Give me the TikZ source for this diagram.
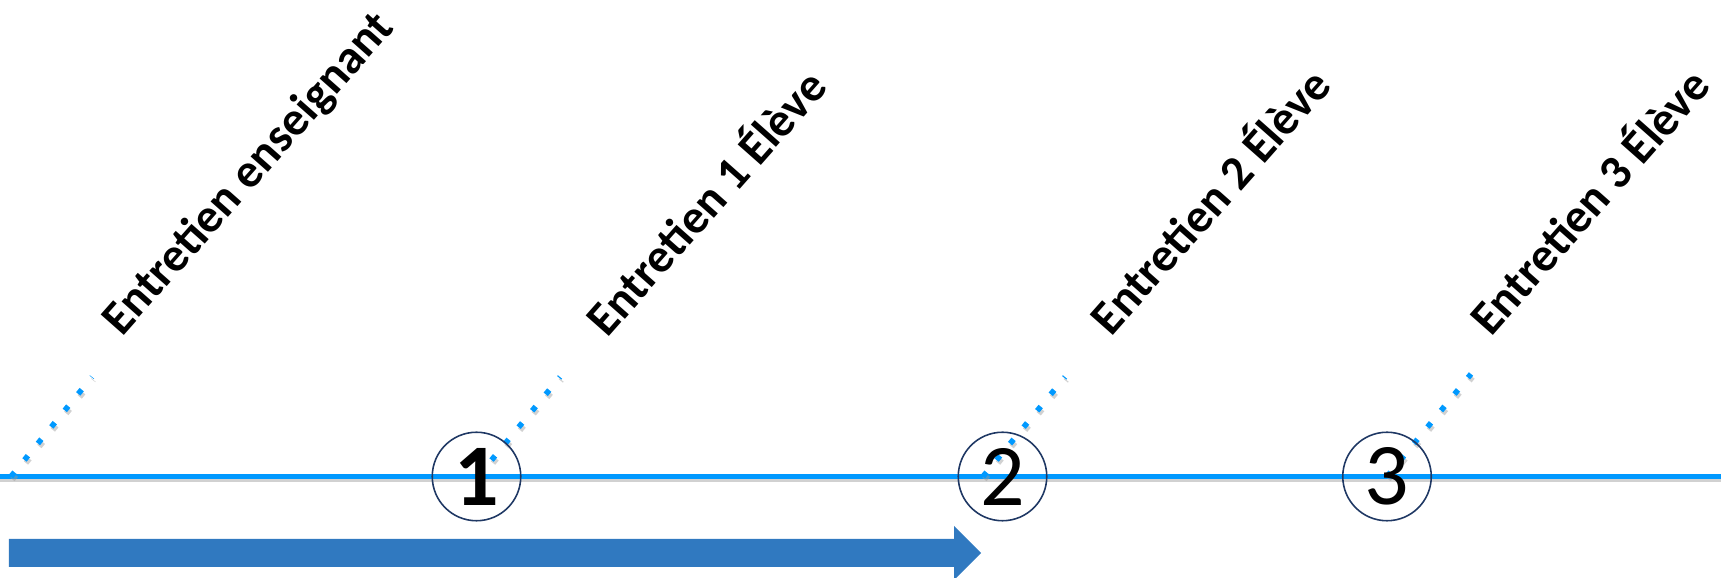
\documentclass[tikz,border=0pt]{standalone}
\usepackage{fontspec}
\setmainfont{Carlito}
\usepackage{tikz}
\usetikzlibrary{positioning}

\definecolor{lineblue}{RGB}{0,153,255}
\definecolor{arrowblue}{RGB}{48,121,192}
\definecolor{circlenavy}{RGB}{31,56,100}

\begin{document}
\begin{tikzpicture}[
    entry/.style={rotate=48.5, inner sep=0pt, font=\fontsize{13.6}{16}\selectfont\bfseries},
    marker/.style={circle, draw=circlenavy, line width=0.45pt, minimum size=0.885cm, inner sep=0pt, font=\fontsize{25}{30}\selectfont},
    dots/.style={lineblue, line width=0.055cm, dash pattern=on 0.055cm off 0.158cm},
    dotshadow/.style={black!40, opacity=0.45, line width=0.055cm, dash pattern=on 0.055cm off 0.158cm,
        transform canvas={shift={(0.015,-0.03)}}},
    timeline/.style={lineblue, line width=0.045cm},
    lineshadow/.style={black!40, opacity=0.45, line width=0.04cm, transform canvas={yshift=-0.035cm}}
]
\useasboundingbox (0,0) rectangle (17.21,5.78);

% Timeline
\coordinate (start) at (0,1.015);
\coordinate (end) at (17.21,1.015);
\draw [lineshadow] (start) -- (end);
\draw [timeline] (start) -- (end);

% Ticks on the timeline and tops of the dotted leaders
\coordinate (tick0) at (0.11,1.015);
\coordinate (top0) at (0.92,2.01);
\coordinate (tick1) at (4.78,1.015);
\coordinate (top1) at (5.60,2.01);
\coordinate (tick2) at (9.83,1.015);
\coordinate (top2) at (10.65,2.01);
\coordinate (tick3) at (13.87,1.015);
\coordinate (top3) at (14.71,2.04);

% Dotted leaders
\foreach \i in {0,...,3} {
    \draw [dotshadow] (tick\i) -- (top\i);
    \draw [dots] (tick\i) -- (top\i);
}

% Interview labels
\node [entry] (teacher) at (2.495,4.035) {Entretien enseignant};
\node [entry] (pupil1) at (7.035,3.775) {Entretien 1 Élève};
\node [entry] (pupil2) at (12.075,3.79) {Entretien 2 Élève};
\node [entry] (pupil3) at (15.87,3.785) {Entretien 3 Élève};

% Numbered markers
\node [marker] (step1) at (4.765,1.015) {\textbf{1}};
\node [marker] (step2) at (10.025,1.015) {2};
\node [marker] (step3) at (13.87,1.015) {3};

% Direction arrow
\fill [arrowblue] (0.09,0.11) -- (9.54,0.11) -- (9.54,-0.02) -- (9.81,0.25)
    -- (9.54,0.52) -- (9.54,0.39) -- (0.09,0.39) -- cycle;

\end{tikzpicture}
\end{document}
